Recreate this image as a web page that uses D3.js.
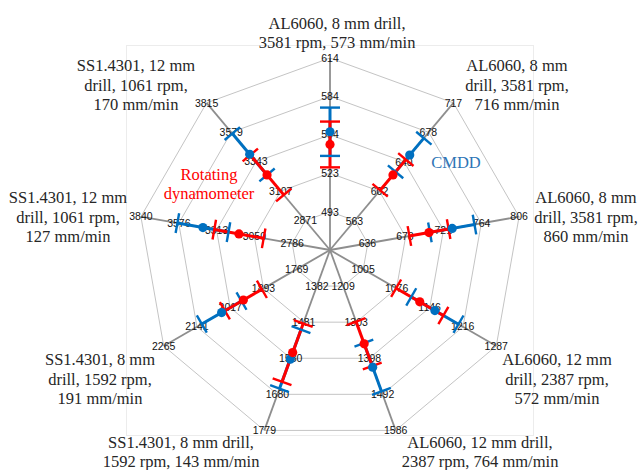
<!DOCTYPE html>
<html lang="en">
<head>
<meta charset="utf-8">
<title>Radar chart - dynamometer vs CMDD</title>
<script src="https://d3js.org/d3.v7.min.js"></script>
<style>
  body { margin: 0; background: #fff; }
  svg { display: block; }
</style>
</head>
<body>
<svg width="640" height="470"></svg>
<script>
// axis names (one entry per spoke, clockwise from the top)
const categories = [
  ["AL6060, 8 mm drill,", "3581 rpm, 573 mm/min"],
  ["AL6060, 8 mm", "drill, 3581 rpm,", "716 mm/min"],
  ["AL6060, 8 mm", "drill, 3581 rpm,", "860 mm/min"],
  ["AL6060, 12 mm", "drill, 2387 rpm,", "572 mm/min"],
  ["AL6060, 12 mm drill,", "2387 rpm, 764 mm/min"],
  ["SS1.4301, 8 mm drill,", "1592 rpm, 143 mm/min"],
  ["SS1.4301, 8 mm", "drill, 1592 rpm,", "191 mm/min"],
  ["SS1.4301, 12 mm", "drill, 1061 rpm,", "127 mm/min"],
  ["SS1.4301, 12 mm", "drill, 1061 rpm,", "170 mm/min"]
];

// tick labels of every spoke (inner ring -> outer ring)
const axisTicks = [
  [493, 523, 554, 584, 614],
  [563, 602, 640, 678, 717],
  [636, 678, 721, 764, 806],
  [1005, 1076, 1146, 1216, 1287],
  [1209, 1303, 1398, 1492, 1586],
  [1382, 1481, 1580, 1680, 1779],
  [1769, 1893, 2017, 2141, 2265],
  [2786, 3050, 3313, 3576, 3840],
  [2871, 3107, 3343, 3579, 3815]
];
// value at the centre of each spoke
const axisMin = [463, 525, 594, 935, 1115, 1283, 1645, 2523, 2635];

// rotating dynamometer (red) and CMDD (blue), mean +- error
const dynoValues = [546, 623, 705, 1125, 1360, 1565, 1968, 3157, 3237];
const dynoErrors = [18, 20, 22, 50, 58, 80, 69, 172, 160];
const cmddValues = [556, 649, 731, 1157, 1421, 1583, 2049, 3408, 3403];
const cmddErrors = [19, 22, 25, 50, 63, 81, 74, 178, 166];

// layout of the category label blocks (offset of block centre from chart centre)
const labelOffsets = [[7, -217], [187, -165], [256, -33], [227, 129], [150, 202],
                      [-149, 202], [-230, 129], [-262, -33], [-194, -165]];

const svg = d3.select("svg");
const cx = 330, cy = 250, R = 192, rings = 5;
const n = categories.length;

const angle = d3.scaleLinear().domain([0, n]).range([0, 2 * Math.PI]);
const radial = axisTicks.map((t, i) =>
  d3.scaleLinear().domain([axisMin[i], t[t.length - 1]]).range([0, R]));

function pt(i, r) {
  const a = angle(i);
  return [cx + r * Math.sin(a), cy - r * Math.cos(a)];
}

// faint plot area frame
svg.append("rect")
  .attr("x", 126.5).attr("y", 45.5).attr("width", 407).attr("height", 390)
  .attr("fill", "none").attr("stroke", "#ececec");

const g = svg.append("g");

// grid rings
const ringLine = d3.lineRadial()
  .angle((d, i) => angle(i))
  .radius(d => d)
  .curve(d3.curveLinearClosed);

g.selectAll(".ring")
  .data(d3.range(1, rings + 1))
  .enter().append("path")
  .attr("class", "ring")
  .attr("transform", `translate(${cx},${cy})`)
  .attr("d", k => ringLine(d3.range(n).map(() => R * k / rings)))
  .attr("fill", "none")
  .attr("stroke", "#c4c4c4")
  .attr("stroke-width", 1);

// spokes
g.selectAll(".spoke")
  .data(d3.range(n))
  .enter().append("line")
  .attr("class", "spoke")
  .attr("x1", cx).attr("y1", cy)
  .attr("x2", i => pt(i, R)[0]).attr("y2", i => pt(i, R)[1])
  .attr("stroke", "#8e8e8e")
  .attr("stroke-width", 1.8);

// tick labels on each spoke
const ticks = [];
axisTicks.forEach((t, i) => t.forEach(v => ticks.push({ i, v })));
g.selectAll(".tick")
  .data(ticks)
  .enter().append("text")
  .attr("class", "tick")
  .attr("x", d => pt(d.i, radial[d.i](d.v))[0])
  .attr("y", d => pt(d.i, radial[d.i](d.v))[1])
  .attr("dy", "0.35em")
  .attr("text-anchor", "middle")
  .style("font-family", "'Liberation Sans', Arial, sans-serif")
  .style("font-size", "10.5px")
  .attr("fill", "#111")
  .text(d => d.v);

// series
const series = [
  { name: "cmdd", color: "#0070c0", values: cmddValues, errors: cmddErrors },
  { name: "dyno", color: "#ff0000", values: dynoValues, errors: dynoErrors }
];

function barData(s) {
  return s.values.map((v, i) => ({ i, v, e: s.errors[i], color: s.color }));
}

const capHalf = 10;
function capLine(sel, which) {
  sel.each(function (d) {
    const r = radial[d.i](which === "lo" ? d.v - d.e : d.v + d.e);
    const [x, y] = pt(d.i, r);
    const a = angle(d.i);
    const px = Math.cos(a) * capHalf, py = Math.sin(a) * capHalf;
    d3.select(this)
      .attr("x1", x - px).attr("y1", y - py)
      .attr("x2", x + px).attr("y2", y + py);
  });
}

// error bar stems: blue first, red on top
series.forEach(s => {
  g.selectAll(".stem-" + s.name)
    .data(barData(s))
    .enter().append("line")
    .attr("class", "stem-" + s.name)
    .attr("x1", d => pt(d.i, radial[d.i](d.v - d.e))[0])
    .attr("y1", d => pt(d.i, radial[d.i](d.v - d.e))[1])
    .attr("x2", d => pt(d.i, radial[d.i](d.v + d.e))[0])
    .attr("y2", d => pt(d.i, radial[d.i](d.v + d.e))[1])
    .attr("stroke", s.color)
    .attr("stroke-width", 3);
});

series.forEach(s => {
  ["lo", "hi"].forEach(w => {
    g.selectAll(".cap-" + s.name + w)
      .data(barData(s))
      .enter().append("line")
      .attr("class", "cap-" + s.name + w)
      .call(capLine, w)
      .attr("stroke", s.color)
      .attr("stroke-width", 2.4);
  });
});

series.forEach(s => {
  g.selectAll(".dot-" + s.name)
    .data(barData(s))
    .enter().append("circle")
    .attr("class", "dot-" + s.name)
    .attr("cx", d => pt(d.i, radial[d.i](d.v))[0])
    .attr("cy", d => pt(d.i, radial[d.i](d.v))[1])
    .attr("r", 4.6)
    .attr("fill", s.color);
});

// category labels
const lineH = 19.3;
const cat = svg.selectAll(".cat")
  .data(categories)
  .enter().append("text")
  .attr("class", "cat")
  .attr("text-anchor", "middle")
  .style("font-family", "'Liberation Serif', 'Times New Roman', serif")
  .style("font-size", "16.5px")
  .attr("fill", "#262626");

cat.each(function (lines, i) {
  const [ox, oy] = labelOffsets[i];
  const top = cy + oy - (lines.length - 1) * lineH / 2;
  d3.select(this).selectAll("tspan")
    .data(lines)
    .enter().append("tspan")
    .attr("x", cx + ox)
    .attr("y", (d, k) => top + k * lineH)
    .attr("dy", "0.35em")
    .text(d => d);
});

// series annotations
const notes = svg.append("g")
  .style("font-family", "'Liberation Serif', 'Times New Roman', serif")
  .style("font-size", "16.5px")
  .attr("text-anchor", "middle");

notes.append("text").attr("x", 209).attr("y", 174).attr("dy", "0.35em")
  .attr("fill", "#ff0000").text("Rotating");
notes.append("text").attr("x", 209).attr("y", 193).attr("dy", "0.35em")
  .attr("fill", "#ff0000").text("dynamometer");
notes.append("text").attr("x", 456).attr("y", 162).attr("dy", "0.35em")
  .attr("fill", "#2e75b6").text("CMDD");
</script>
</body>
</html>
